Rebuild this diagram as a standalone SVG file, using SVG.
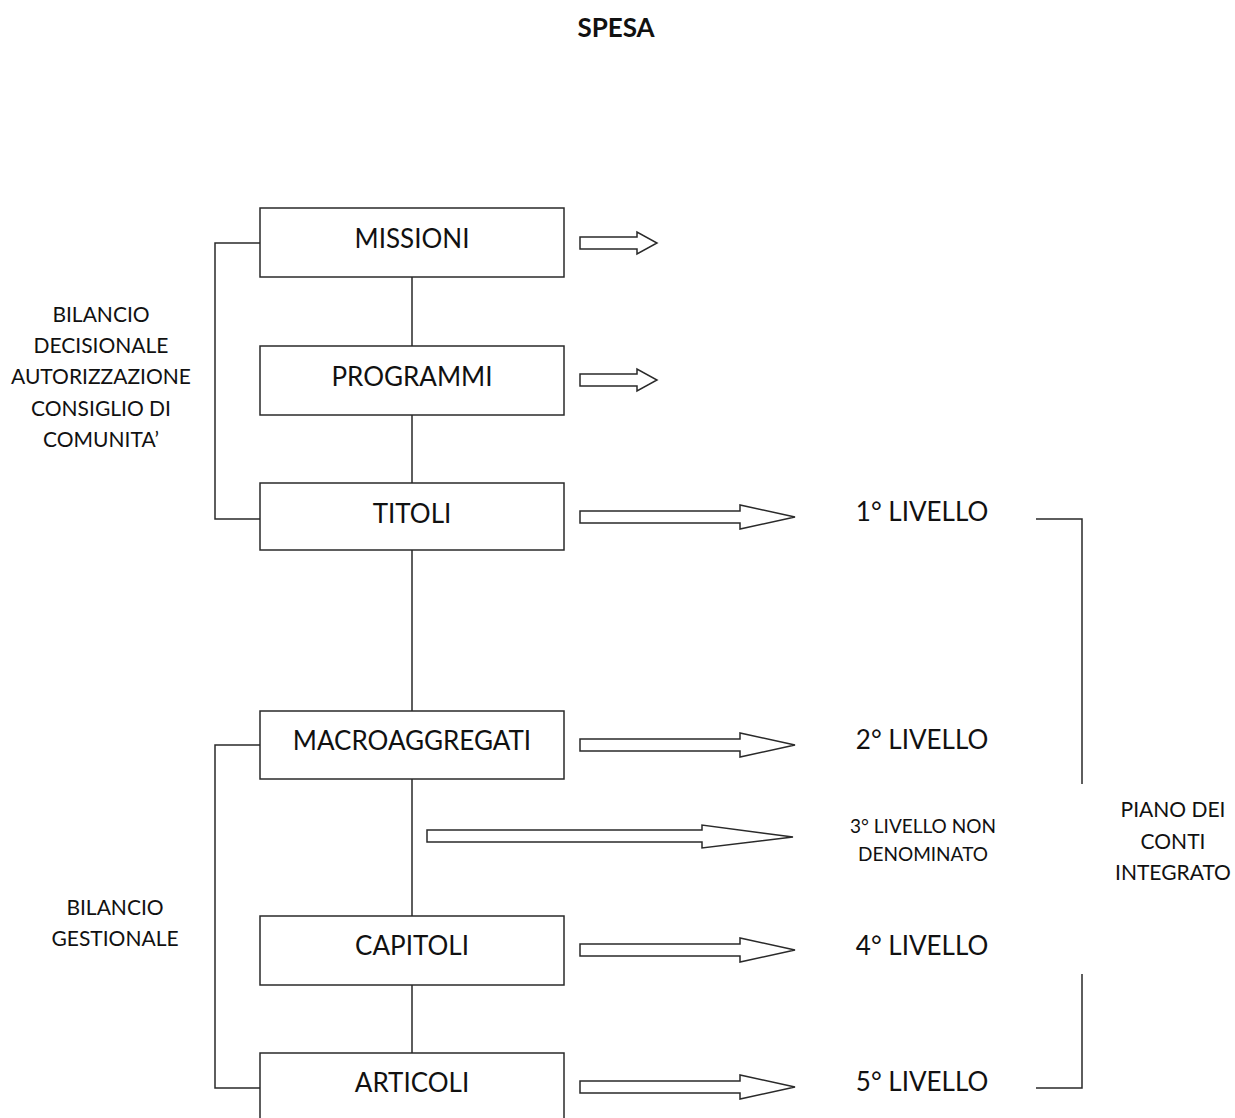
<svg xmlns="http://www.w3.org/2000/svg" width="1235" height="1118" viewBox="0 0 1235 1118">
<style>
.box{fill:#fff;stroke:#2a2a2a;stroke-width:1.5}
.ln{fill:none;stroke:#2a2a2a;stroke-width:1.5}
.arr{fill:#fff;stroke:#2a2a2a;stroke-width:1.5;stroke-linejoin:miter}
.t{font-family:Lato,"Liberation Sans",sans-serif;font-size:26px;fill:#111;text-anchor:middle}
.s{font-family:Lato,"Liberation Sans",sans-serif;font-size:21px;fill:#111;text-anchor:middle}
.xs{font-family:Lato,"Liberation Sans",sans-serif;font-size:19px;fill:#111;text-anchor:middle}
</style>
<defs>
<path id="bigArrow" d="M0,-6 L160,-6 L160,-12 L215,0 L160,12 L160,6 L0,6 Z"/>
<path id="smallArrow" d="M0,-6 L57,-6 L57,-11 L77,0 L57,11 L57,6 L0,6 Z"/>
</defs>
<text x="616" y="37" style="font-family:Lato,'Liberation Sans',sans-serif;font-size:26px;font-weight:bold;text-anchor:middle;fill:#111">SPESA</text>
<g id="connectors">
<path class="ln" d="M412,277 V346 M412,415 V483 M412,550 V711 M412,779 V916 M412,985 V1053"/>
<path class="ln" d="M260,243 H215 V519 H260"/>
<path class="ln" d="M260,745 H215 V1088 H260"/>
<path class="ln" d="M1036,519 H1082 V784"/>
<path class="ln" d="M1082,974 V1088 H1036"/>
<use href="#smallArrow" class="arr" x="580" y="243"/>
<use href="#smallArrow" class="arr" x="580" y="380"/>
<use href="#bigArrow" class="arr" x="580" y="517"/>
<use href="#bigArrow" class="arr" x="580" y="745"/>
<path class="arr" d="M427,830 L702,830 L702,825 L793,837 L702,848 L702,842 L427,842 Z"/>
<use href="#bigArrow" class="arr" x="580" y="950"/>
<use href="#bigArrow" class="arr" x="580" y="1087"/>
</g>
<g id="missioni"><rect class="box" x="260" y="208" width="304" height="69"/><text class="t" x="412" y="248">MISSIONI</text></g>
<g id="programmi"><rect class="box" x="260" y="346" width="304" height="69"/><text class="t" x="412" y="386">PROGRAMMI</text></g>
<g id="titoli"><rect class="box" x="260" y="483" width="304" height="67"/><text class="t" x="412" y="523">TITOLI</text></g>
<g id="macroaggregati"><rect class="box" x="260" y="711" width="304" height="68"/><text class="t" x="412" y="750">MACROAGGREGATI</text></g>
<g id="capitoli"><rect class="box" x="260" y="916" width="304" height="69"/><text class="t" x="412" y="955">CAPITOLI</text></g>
<g id="articoli"><rect class="box" x="260" y="1053" width="304" height="80"/><text class="t" x="412" y="1092">ARTICOLI</text></g>
<g id="bilancio-decisionale">
<text class="s" x="101" y="322">BILANCIO</text>
<text class="s" x="101" y="353">DECISIONALE</text>
<text class="s" x="101" y="384">AUTORIZZAZIONE</text>
<text class="s" x="101" y="416">CONSIGLIO DI</text>
<text class="s" x="101" y="447">COMUNITA’</text>
</g>
<g id="bilancio-gestionale">
<text class="s" x="115" y="915">BILANCIO</text>
<text class="s" x="115" y="946">GESTIONALE</text>
</g>
<g id="livello1"><text class="t" x="922" y="521">1° LIVELLO</text></g>
<g id="livello2"><text class="t" x="922" y="749">2° LIVELLO</text></g>
<g id="livello3"><text class="xs" x="923" y="833">3° LIVELLO NON</text><text class="xs" x="923" y="861">DENOMINATO</text></g>
<g id="livello4"><text class="t" x="922" y="955">4° LIVELLO</text></g>
<g id="livello5"><text class="t" x="922" y="1091">5° LIVELLO</text></g>
<g id="piano">
<text class="s" x="1173" y="817">PIANO DEI</text>
<text class="s" x="1173" y="849">CONTI</text>
<text class="s" x="1173" y="880">INTEGRATO</text>
</g>
</svg>
